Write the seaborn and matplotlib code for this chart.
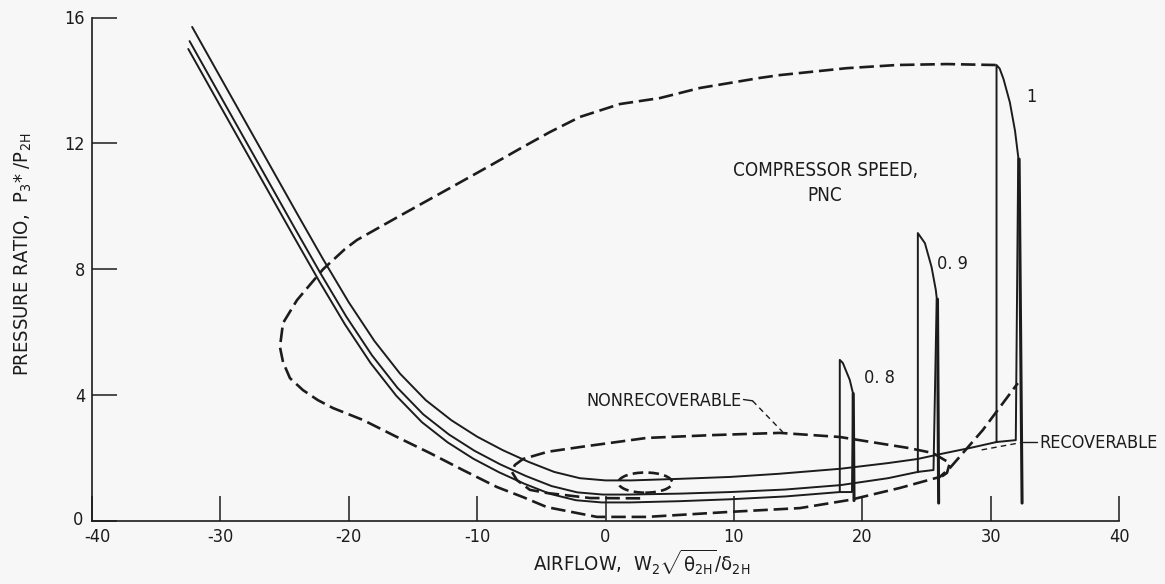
import matplotlib
matplotlib.use("Agg")
import matplotlib.pyplot as plt
import matplotlib.transforms as mtransforms
from matplotlib import font_manager
from matplotlib.patches import Ellipse
import seaborn as sns

# ---- axis ticks -------------------------------------------------------------
x_ticks = [-40, -30, -20, -10, 0, 10, 20, 30, 40]
x_tick_labels = ["-40", "-30", "-20", "-10", "0", "10", "20", "30", "40"]
y_ticks = [0, 4, 8, 12, 16]
y_tick_labels = ["0", "4", "8", "12", "16"]

# ---- operating lines (reverse-flow branch into the stall loop) ---------------
op_100_x = [-32.2, -30.0, -28.0, -26.0, -24.0, -22.0, -20.0, -18.0, -16.0, -14.0,
            -12.0, -10.0, -8.0, -6.0, -4.0, -2.0, 0.0, 2.0, 5.8, 9.7, 13.5, 18.3,
            22.0, 24.3, 26.0, 28.5, 30.46]
op_100_y = [15.70, 14.10, 12.65, 11.20, 9.75, 8.32, 6.95, 5.72, 4.68, 3.84,
            3.20, 2.68, 2.25, 1.88, 1.56, 1.36, 1.29, 1.29, 1.34, 1.40, 1.50, 1.66,
            1.84, 1.97, 2.12, 2.33, 2.51]

op_90_x = [-32.4, -30.2, -28.2, -26.2, -24.2, -22.2, -20.2, -18.2, -16.2, -14.2,
           -12.2, -10.2, -8.2, -6.2, -4.2, -2.2, -0.2, 1.8, 5.8, 9.7, 14.0, 18.3,
           22.0, 24.33]
op_90_y = [15.25, 13.65, 12.20, 10.75, 9.30, 7.87, 6.50, 5.27, 4.23, 3.39,
           2.75, 2.23, 1.80, 1.43, 1.11, 0.91, 0.84, 0.84, 0.87, 0.92, 1.00, 1.14,
           1.36, 1.56]

op_80_x = [-32.5, -30.3, -28.3, -26.3, -24.3, -22.3, -20.3, -18.3, -16.3, -14.3,
           -12.3, -10.3, -8.3, -6.3, -4.3, -2.3, -0.3, 1.9, 5.8, 9.7, 14.0, 18.25]
op_80_y = [15.00, 13.40, 11.95, 10.50, 9.05, 7.62, 6.25, 5.02, 3.98, 3.14,
           2.50, 1.98, 1.55, 1.18, 0.86, 0.66, 0.59, 0.59, 0.63, 0.69, 0.78, 0.92]

# ---- stall loops and stalled branches ----------------------------------------
loop_100_x = [30.46, 30.46, 30.70, 31.00, 31.50, 31.90, 32.15, 31.96, 30.46]
loop_100_y = [2.51, 14.49, 14.38, 14.05, 13.30, 12.40, 11.57, 2.57, 2.51]
stall_100_x = [32.22, 32.45]
stall_100_y = [11.50, 0.57]

loop_90_x = [24.33, 24.33, 24.88, 25.40, 25.73, 25.80, 25.55, 24.33]
loop_90_y = [1.56, 9.15, 8.83, 8.07, 7.34, 7.09, 1.62, 1.56]
stall_90_x = [25.86, 25.95]
stall_90_y = [7.05, 0.57]

loop_80_x = [18.25, 18.25, 18.49, 19.03, 19.27, 19.20, 18.25]
loop_80_y = [0.92, 5.12, 5.02, 4.48, 4.07, 0.92, 0.92]
stall_80_x = [19.30, 19.36]
stall_80_y = [4.05, 0.65]

# ---- recoverable boundary (large dashed envelope) ---------------------------
env_x = [30.40, 26.59, 22.69, 18.80, 13.58, 12.02, 7.35, 4.24, 1.12, -1.99,
         -4.33, -6.67, -9.00, -12.12, -16.01, -19.36, -20.30, -22.00, -24.03,
         -25.12, -25.36, -25.12, -24.58, -23.57, -22.40, -21.23, -18.89, -16.25,
         -13.68, -11.11, -8.46, -6.43, -4.56, -0.67, 3.22, 9.69, 15.14, 19.03,
         22.93, 26.04, 26.82, 29.39, 32.12]
env_y = [14.49, 14.52, 14.49, 14.39, 14.17, 14.08, 13.76, 13.44, 13.25, 12.84,
         12.36, 11.83, 11.29, 10.58, 9.70, 8.93, 8.64, 8.00, 7.02,
         6.29, 5.53, 5.05, 4.54, 4.16, 3.84, 3.59, 3.21, 2.67,
         2.16, 1.62, 1.08, 0.76, 0.44, 0.13, 0.13, 0.29, 0.41, 0.67,
         1.05, 1.40, 1.68, 2.89, 4.38]

# ---- nonrecoverable region (dashed) ------------------------------------------
nonrec_x = [2.7, -1.2, -4.56, -5.89, -6.90, -7.29, -7.06, -6.43, -4.5, -1.99,
            3.22, 8.36, 13.58, 18.25, 21.45, 23.6, 25.5, 26.82, 26.6, 26.04]
nonrec_y = [0.72, 0.73, 0.89, 0.99, 1.30, 1.56, 1.78, 1.97, 2.20, 2.35,
            2.64, 2.73, 2.80, 2.67, 2.46, 2.32, 2.16, 1.84, 1.53, 1.37]

# small nonrecoverable pocket near zero flow: centre and extent
pocket_center = (3.1, 1.22)
pocket_width = 4.2
pocket_height = 0.64

# ---- annotation leaders ------------------------------------------------------
nonrec_lead_x = [10.75, 11.45, 13.80]
nonrec_lead_y = [3.86, 3.82, 2.83]
rec_lead_x = [29.3, 32.35]
rec_lead_y = [2.26, 2.49]
rec_tick_x = [32.55, 33.65]
rec_tick_y = [2.51, 2.51]

speed_labels = ["0. 8", "0. 9", "1"]

# ---- style --------------------------------------------------------------------
sns.set_theme(style="ticks")
names = {f.name for f in font_manager.fontManager.ttflist}
if "Liberation Sans Narrow" in names:
    family, stretch = "Liberation Sans Narrow", "normal"
else:
    family, stretch = "DejaVu Sans", "condensed"
plt.rcParams["font.family"] = [family, "DejaVu Sans"]
plt.rcParams["font.stretch"] = stretch
plt.rcParams["mathtext.fontset"] = "custom"
plt.rcParams["mathtext.rm"] = family
plt.rcParams["mathtext.it"] = family
plt.rcParams["mathtext.bf"] = family

ink = "#1c1c1c"
paper = "#f7f7f7"
fs = 13

fig = plt.figure(figsize=(11.65, 5.84), dpi=100, facecolor=paper)
ax = fig.add_axes([92 / 1165, 1 - 521 / 584, (1119 - 92) / 1165, (521 - 17.5) / 584])
ax.set_facecolor(paper)

solid_kw = dict(color=ink, lw=1.4, sort=False, estimator=None, ax=ax, legend=False)
dash_kw = dict(color=ink, lw=1.9, sort=False, estimator=None, ax=ax, legend=False,
               linestyle=(0, (5.5, 2.2)))

for xs, ys in [(op_100_x, op_100_y), (op_90_x, op_90_y), (op_80_x, op_80_y),
               (loop_100_x, loop_100_y), (loop_90_x, loop_90_y), (loop_80_x, loop_80_y)]:
    sns.lineplot(x=xs, y=ys, **solid_kw)

for xs, ys in [(stall_100_x, stall_100_y), (stall_90_x, stall_90_y), (stall_80_x, stall_80_y)]:
    sns.lineplot(x=xs, y=ys, color=ink, lw=2.2, sort=False, estimator=None, ax=ax, legend=False)

sns.lineplot(x=env_x, y=env_y, **dash_kw)
sns.lineplot(x=nonrec_x, y=nonrec_y, **dash_kw)
ax.add_patch(Ellipse(pocket_center, pocket_width, pocket_height, fill=False,
                     edgecolor=ink, lw=1.9, linestyle=(0, (4, 2))))

# leaders
sns.lineplot(x=nonrec_lead_x[:2], y=nonrec_lead_y[:2], color=ink, lw=1.0,
             sort=False, estimator=None, ax=ax, legend=False)
sns.lineplot(x=nonrec_lead_x[1:], y=nonrec_lead_y[1:], color=ink, lw=1.0,
             sort=False, estimator=None, ax=ax, legend=False, linestyle=(0, (4, 3)))
sns.lineplot(x=rec_lead_x, y=rec_lead_y, color=ink, lw=1.0, sort=False,
             estimator=None, ax=ax, legend=False, linestyle=(0, (4, 3)))
sns.lineplot(x=rec_tick_x, y=rec_tick_y, color=ink, lw=1.0, sort=False,
             estimator=None, ax=ax, legend=False)

# text
ax.text(17.1, 10.74, "COMPRESSOR SPEED,\nPNC", ha="center", va="center",
        fontsize=13.5, color=ink, linespacing=1.35)
ax.text(21.3, 4.54, speed_labels[0], ha="center", va="center", fontsize=fs, color=ink)
ax.text(27.0, 8.17, speed_labels[1], ha="center", va="center", fontsize=fs, color=ink)
ax.text(33.2, 13.47, speed_labels[2], ha="center", va="center", fontsize=fs, color=ink)
ax.text(10.62, 3.80, "NONRECOVERABLE", ha="right", va="center", fontsize=fs, color=ink)
ax.text(33.83, 2.49, "RECOVERABLE", ha="left", va="center", fontsize=fs, color=ink,
        clip_on=False)

# axes
ax.set_xlim(-40, 40)
ax.set_ylim(0, 16)
ax.set_xticks(x_ticks, x_tick_labels)
ax.set_yticks(y_ticks, y_tick_labels)
ax.tick_params(direction="in", length=18, width=1.1, colors=ink, labelsize=fs, pad=5)
sns.despine(ax=ax)
for side in ("left", "bottom"):
    ax.spines[side].set_linewidth(1.2)
    ax.spines[side].set_color(ink)

# keep the corner labels apart, as in the printed figure
xl0 = ax.get_xticklabels()[0]
xl0.set_transform(xl0.get_transform() + mtransforms.ScaledTranslation(5 / 100, 0, fig.dpi_scale_trans))
yl0 = ax.get_yticklabels()[0]
yl0.set_transform(yl0.get_transform() + mtransforms.ScaledTranslation(-2 / 100, 3 / 100, fig.dpi_scale_trans))

ax.set_xlabel(r"AIRFLOW,  $\mathrm{W_2}\sqrt{\theta_{\mathrm{2H}}}/\delta_{\mathrm{2H}}$",
              fontsize=14.5, color=ink)
ax.xaxis.set_label_coords(0.535, -0.052)
ax.set_ylabel(r"PRESSURE RATIO,  $\mathrm{P_3}$* /$\mathrm{P_{2H}}$", fontsize=14.5, color=ink)
ax.yaxis.set_label_coords(-0.056, 0.53)

fig.savefig("out.png", dpi=100, facecolor=paper)
